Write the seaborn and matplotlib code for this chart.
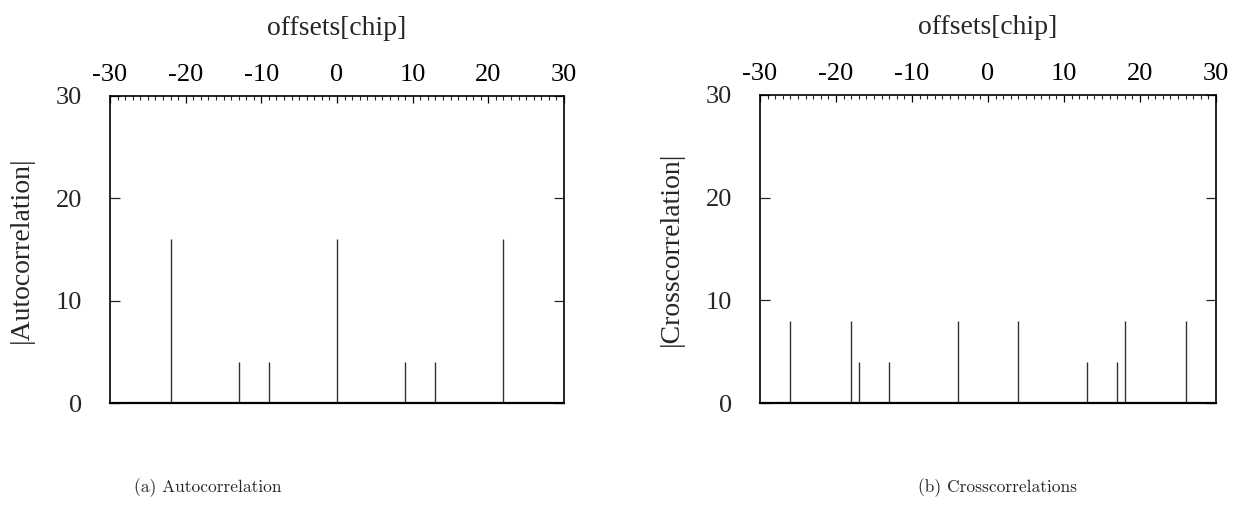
import matplotlib
matplotlib.use("Agg")
import matplotlib.pyplot as plt
import seaborn as sns
import numpy as np

# ---- data ----
auto_offsets = [-22, -13, -9, 0, 9, 13, 22]
auto_values = [16, 4, 4, 16, 4, 4, 16]

cross_offsets = [-26, -18, -17, -13, -4, 4, 13, 17, 18, 26]
cross_values = [8, 8, 4, 4, 8, 8, 4, 4, 8, 8]

x_ticks = [-30, -20, -10, 0, 10, 20, 30]
y_ticks = [0, 10, 20, 30]
x_label = "offsets[chip]"
y_labels = ["|Autocorrelation|", "|Crosscorrelation|"]
captions = ["(a) Autocorrelation", "(b) Crosscorrelations"]

sns.set_style("ticks")
plt.rcParams["font.family"] = ["Liberation Serif", "DejaVu Serif"]
plt.rcParams["axes.unicode_minus"] = False

fig = plt.figure(figsize=(12.39, 5.28), dpi=100)
ax1 = fig.add_axes([0.0888, 0.2367, 0.3664, 0.5815])
ax2 = fig.add_axes([0.6134, 0.2367, 0.3680, 0.5834])

panels = [
    (ax1, auto_offsets, auto_values, y_labels[0], captions[0]),
    (ax2, cross_offsets, cross_values, y_labels[1], captions[1]),
]

for ax, offs, vals, ylab, cap in panels:
    ax.vlines(offs, 0, vals, colors="#333333", linewidth=1.0)
    ax.set_xlim(-30, 30)
    ax.set_ylim(0, 30)
    ax.xaxis.tick_top()
    ax.xaxis.set_label_position("top")
    ax.set_xticks(x_ticks)
    ax.set_xticklabels([str(t) for t in x_ticks], fontsize=19)
    ax.set_xticks(np.arange(-30, 31, 1), minor=True)
    ax.tick_params(axis="x", which="major", direction="in", length=5, width=0.9,
                   pad=7, colors="black")
    ax.tick_params(axis="x", which="minor", direction="in", length=3, width=0.8)
    ax.set_yticks(y_ticks)
    ax.set_yticklabels([str(t) for t in y_ticks], fontsize=19)
    ax.tick_params(axis="y", which="both", direction="in", length=7, width=0.9,
                   left=True, right=True, pad=20)
    ax.set_xlabel(x_label, fontsize=20, labelpad=21)
    ax.set_ylabel(ylab, fontsize=20, labelpad=16)
    for sp in ax.spines.values():
        sp.set_visible(True)
        sp.set_linewidth(1.2)
        sp.set_color("black")
    ax.spines["bottom"].set_linewidth(1.6)

fig.text(208 / 1239, 1 - 488 / 528, captions[0], ha="center", va="center",
         fontsize=12.5, family=["cmr10", "DejaVu Serif"])
fig.text(998 / 1239, 1 - 488 / 528, captions[1], ha="center", va="center",
         fontsize=12.5, family=["cmr10", "DejaVu Serif"])

fig.savefig("out.png", dpi=100, facecolor="white")
